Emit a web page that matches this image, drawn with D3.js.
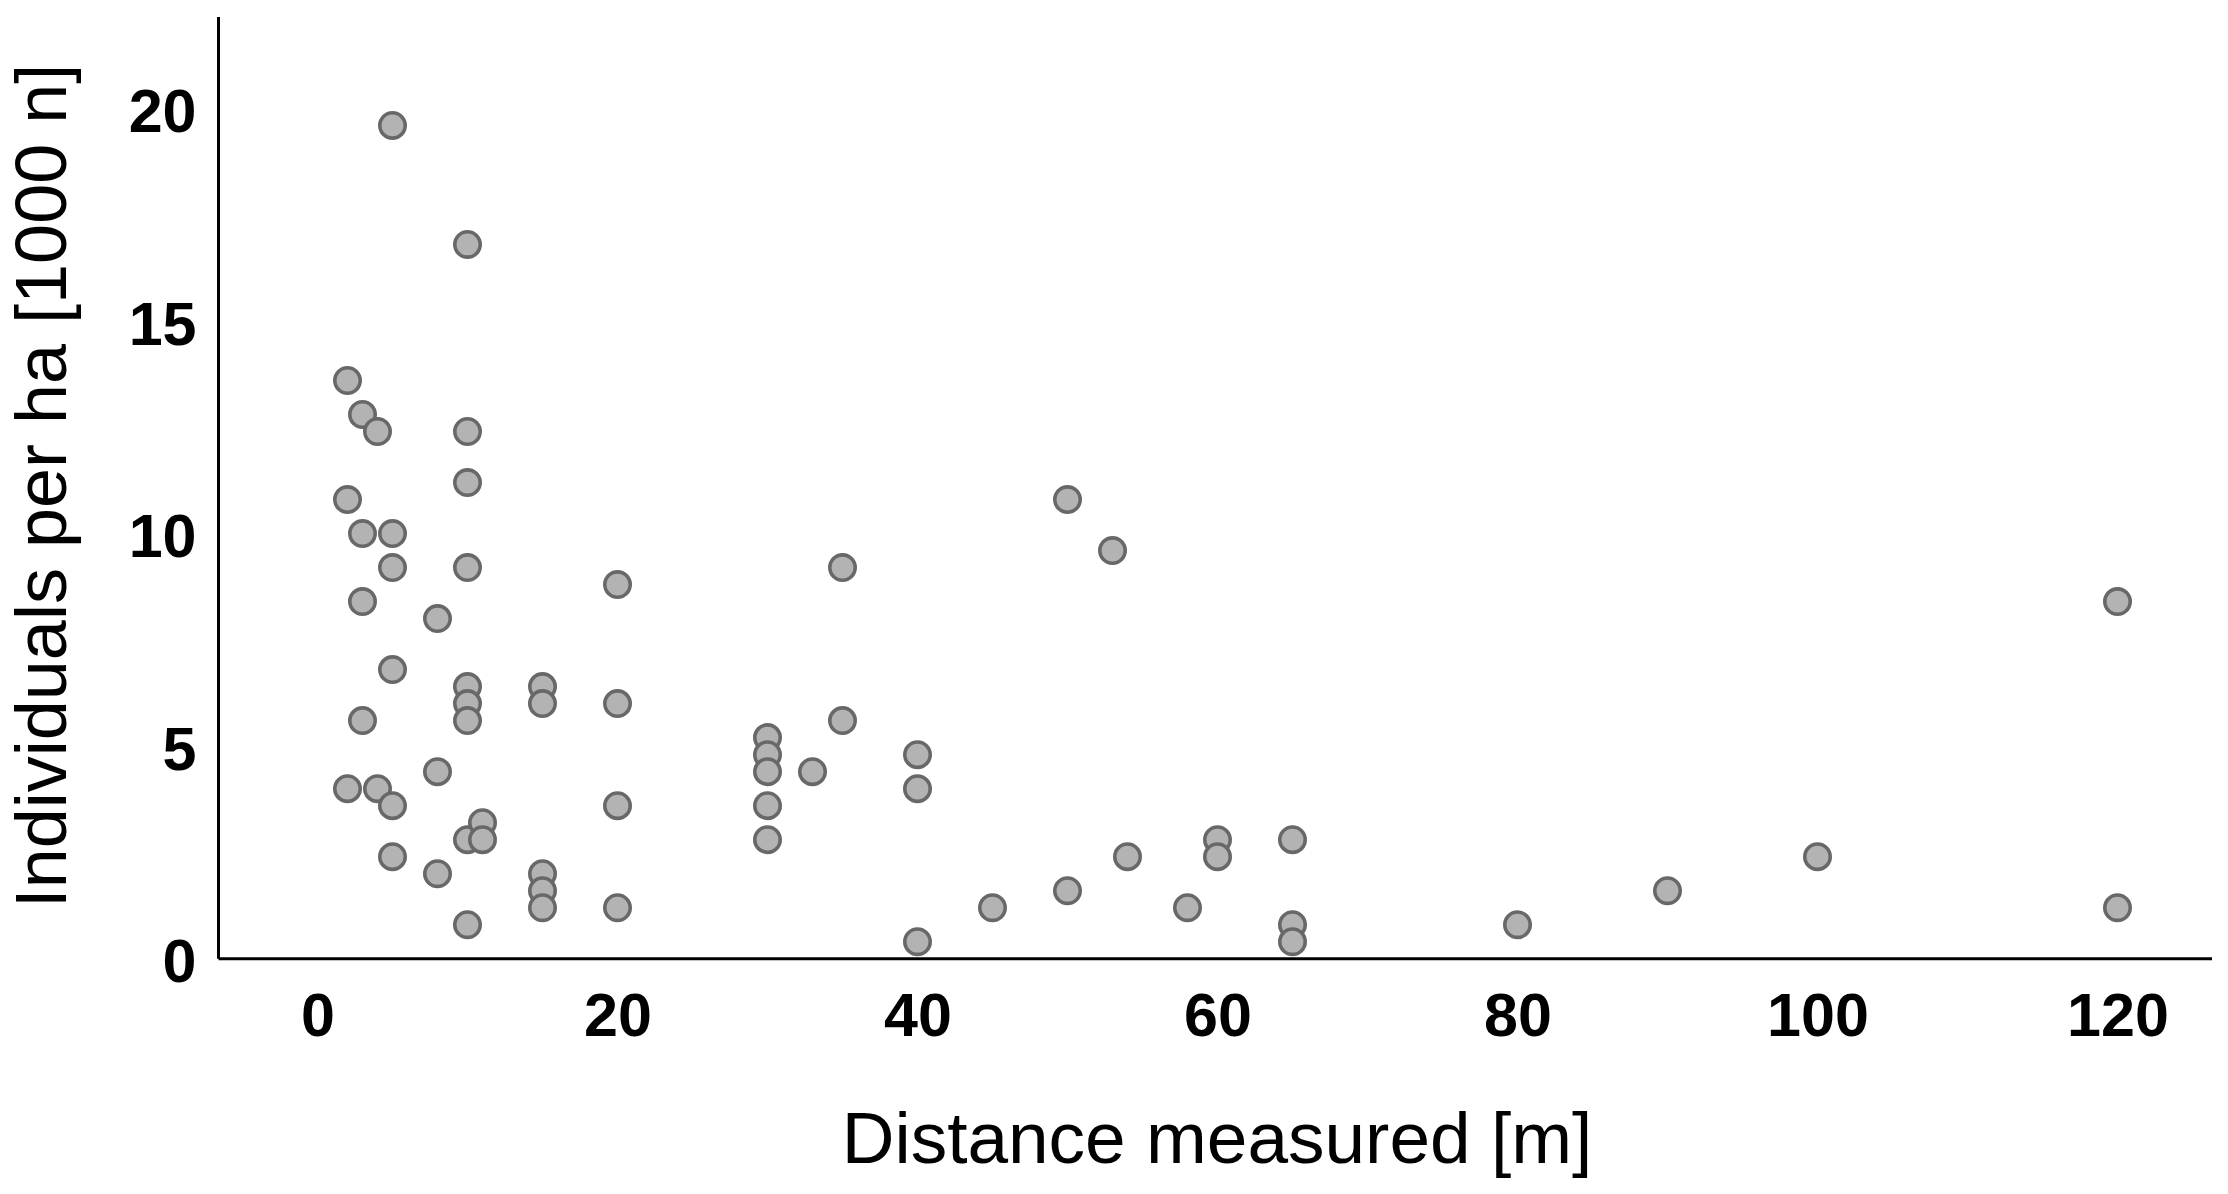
<!DOCTYPE html>
<html>
<head>
<meta charset="utf-8">
<script src="https://cdn.jsdelivr.net/npm/d3@7"></script>
<style>
  html, body { margin: 0; padding: 0; background: #fff; }
  svg { display: block; font-family: "Liberation Sans", Arial, sans-serif; }
</style>
</head>
<body>
<svg id="chart" width="2228" height="1194"></svg>
<script>
// Distance measured [m]
const distances = [
  2, 2, 2,
  3, 3, 3, 3,
  4, 4,
  5, 5, 5, 5, 5, 5,
  8, 8, 8,
  10, 10, 10, 10, 10, 10, 10, 10, 10,
  11, 11,
  15, 15, 15, 15, 15,
  20, 20, 20, 20,
  30, 30, 30, 30, 30,
  33,
  35, 35,
  40, 40, 40,
  45,
  50, 50,
  53,
  54,
  58,
  60, 60,
  65, 65, 65,
  80,
  90,
  100,
  120, 120
];
// Individuals per ha [1000 n]
const individuals = [
  13.6, 10.8, 4.0,
  12.8, 10.0, 8.4, 5.6,
  12.4, 4.0,
  19.6, 10.0, 9.2, 6.8, 3.6, 2.4,
  8.0, 4.4, 2.0,
  16.8, 12.4, 11.2, 9.2, 6.4, 6.0, 5.6, 2.8, 0.8,
  3.2, 2.8,
  6.4, 6.0, 2.0, 1.6, 1.2,
  8.8, 6.0, 3.6, 1.2,
  5.2, 4.8, 4.4, 3.6, 2.8,
  4.4,
  9.2, 5.6,
  4.8, 4.0, 0.4,
  1.2,
  10.8, 1.6,
  9.6,
  2.4,
  1.2,
  2.8, 2.4,
  2.8, 0.8, 0.4,
  0.8,
  1.6,
  2.4,
  8.4, 1.2
];
const xTicks = [0, 20, 40, 60, 80, 100, 120];
const yTicks = [0, 5, 10, 15, 20];
const xTitle = "Distance measured [m]";
const yTitle = "Individuals per ha [1000 n]";

(function () {
const points = distances.map((d, i) => ({ x: d, y: individuals[i] }));

const svg = d3.select("#chart");
const pLeft = 218.5, pRight = 2212, pTop = 17, pBottom = 958.7;

const x = d3.scaleLinear().domain([-6.6, 126.3]).range([pLeft, pRight]);
const y = d3.scaleLinear().domain([0, 22.15]).range([pBottom, pTop]);

// points
svg.append("g")
  .selectAll("circle")
  .data(points)
  .join("circle")
  .attr("cx", d => x(d.x))
  .attr("cy", d => y(d.y))
  .attr("r", 12.7)
  .attr("fill", "#b3b3b3")
  .attr("stroke", "#686868")
  .attr("stroke-width", 3.6);

// x axis
const xAxis = d3.axisBottom(x).tickValues(xTicks).tickSize(0).tickPadding(0).tickFormat(d3.format("d"));
const gx = svg.append("g").attr("transform", `translate(0,${pBottom})`).call(xAxis);
gx.select(".domain").attr("stroke", "#000").attr("stroke-width", 3).attr("d", `M${pLeft},0H${pRight}`);
gx.selectAll(".tick text")
  .attr("y", 77)
  .attr("dy", null)
  .attr("fill", "#000")
  .attr("font-family", "'Liberation Sans', Arial, sans-serif")
  .attr("font-weight", "bold")
  .attr("font-size", 61);

// y axis
const yAxis = d3.axisLeft(y).tickValues(yTicks).tickSize(0).tickPadding(0).tickFormat(d3.format("d"));
const gy = svg.append("g").attr("transform", `translate(${pLeft},0)`).call(yAxis);
gy.select(".domain").attr("stroke", "#000").attr("stroke-width", 3).attr("d", `M0,${pTop}V${pBottom}`);
gy.selectAll(".tick text")
  .attr("x", -22)
  .attr("dy", "0.38em")
  .attr("fill", "#000")
  .attr("font-family", "'Liberation Sans', Arial, sans-serif")
  .attr("font-weight", "bold")
  .attr("font-size", 61);

// titles
svg.append("text")
  .attr("x", 1217)
  .attr("y", 1163)
  .attr("text-anchor", "middle")
  .attr("font-size", 73)
  .attr("fill", "#000")
  .text(xTitle);

svg.append("text")
  .attr("transform", "translate(66,486) rotate(-90)")
  .attr("text-anchor", "middle")
  .attr("font-size", 72)
  .attr("fill", "#000")
  .text(yTitle);
})();
</script>
</body>
</html>
